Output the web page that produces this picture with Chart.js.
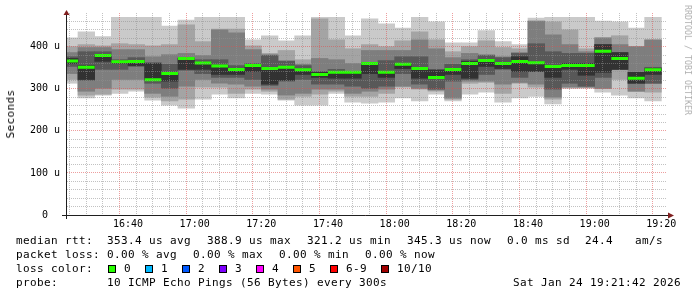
<!DOCTYPE html>
<html><head><meta charset="utf-8">
<script src="https://cdn.jsdelivr.net/npm/chart.js@4.4.1/dist/chart.umd.min.js"></script>
<style>
html,body{margin:0;padding:0;background:#fff;}
#wrap{position:relative;width:697px;height:297px;overflow:hidden;background:#fff;}
canvas{position:absolute;left:0;top:0;}
.t{position:absolute;font-family:'DejaVu Sans Mono',monospace;font-size:11px;letter-spacing:0.378px;line-height:14px;white-space:pre;color:#000;}
.box{position:absolute;width:8px;height:8px;box-sizing:border-box;border:1px solid #000;}
.rot{position:absolute;white-space:pre;font-family:'DejaVu Sans Mono',monospace;line-height:12px;}
</style></head>
<body>
<div id="wrap">
<canvas id="c" width="697" height="297"></canvas>
<div class="rot" id="ylab" style="left:11px;top:113.5px;font-size:11px;letter-spacing:0.378px;color:#000;transform:translate(-50%,-50%) rotate(-90deg);">Seconds</div>
<div class="rot" id="wm" style="left:687.5px;top:60px;font-size:8.3px;color:#b0b0b0;transform:translate(-50%,-50%) rotate(90deg);">RRDTOOL / TOBI OETIKER</div>
<div id="legend"></div>
</div>
<script>
// 5-minute slot start times (categories)
const slots = ['16:20','16:25','16:30','16:35','16:40','16:45','16:50','16:55','17:00','17:05','17:10','17:15',
  '17:20','17:25','17:30','17:35','17:40','17:45','17:50','17:55','18:00','18:05','18:10','18:15',
  '18:20','18:25','18:30','18:35','18:40','18:45','18:50','18:55','19:00','19:05','19:10','19:15'];
// sorted ping RTTs per slot (microseconds), rtt1 = fastest ... rtt10 = slowest
const rtt10 = [421,435,424,470,470,470,449,463,470,470,470,416,426,414,426,470,470,426,466,454,444,470,459,409,409,438,412,405,468,470,470,470,461,459,444,470];
const rtt9  = [400,405,402,407,405,402,405,452,412,442,442,402,384,391,369,466,416,395,405,400,414,435,416,388,400,414,398,395,461,459,440,395,421,426,400,416];
const rtt8  = [386,398,398,393,393,376,381,384,379,440,433,393,381,367,358,372,369,360,391,391,391,416,395,374,384,381,376,386,461,428,405,388,421,405,400,416];
const rtt7  = [376,388,388,369,374,362,358,374,369,369,355,360,379,365,355,341,346,341,362,367,376,376,346,358,369,379,374,384,407,388,384,384,405,386,339,351];
const rtt6  = [372,355,379,365,367,360,336,372,362,355,348,355,351,351,346,339,341,340,360,341,360,348,344,346,365,367,361,376,362,353,360,360,405,386,339,348];
const rtt5  = [360,322,365,360,355,321,318,346,346,334,334,341,311,320,334,327,325,325,336,327,348,325,325,334,325,353,348,341,341,327,346,332,339,346,313,334];
const rtt4  = [353,320,346,346,353,313,301,344,336,327,327,322,308,318,322,311,311,306,301,306,336,311,299,318,322,334,346,327,341,299,313,306,327,346,313,313];
const rtt3  = [336,294,301,322,322,289,282,306,322,313,311,306,299,285,289,299,299,289,294,299,306,301,297,278,318,318,311,315,311,280,304,304,301,346,294,313];
const rtt2  = [322,285,287,299,299,280,271,275,304,304,289,299,294,275,282,287,294,282,282,289,304,299,294,275,313,315,289,313,304,275,303,303,301,322,294,292];
const rtt1  = [313,278,285,289,294,273,261,254,275,287,278,289,287,273,261,261,289,268,266,268,278,271,287,271,287,292,268,278,282,264,300,301,292,285,278,271];
const median = [366,351,379,364,365,321.2,336,372,361,354,346,355,348,351,345,334,339,339,360,339,358,348,327,346,360,367,360,365,362,353,355,355,388.9,372,325,345.3];
// axis tick labels
const xTickLabels = ['16:40','17:00','17:20','17:40','18:00','18:20','18:40','19:00','19:20'];
const yTickLabels = ['0  ','100 u','200 u','300 u','400 u'];
const yTickValues = [0,100,200,300,400];
// legend
const lossLabels = ['0','1','2','3','4','5','6-9','10/10'];
const lossColors = ['#26ff00','#00b8ff','#0059ff','#7e00ff','#ff00ff','#ff5500','#ff0000','#a10000'];

const toMin = s => { const p = s.split(':').map(Number); return p[0]*60 + p[1]; };
const fmt = v => { const h = Math.floor(v/60), m = Math.round(v - h*60); return String(h).padStart(2,'0') + ':' + String(m).padStart(2,'0'); };
const STEP = 5;
const xMin = toMin('16:21') + 42/60;
const xMax = xMin + 180;
const centers = slots.map(s => toMin(s) + STEP/2);

const GRID = 'rgba(143,143,143,0.55)';
const MGRID = 'rgba(222,79,79,0.55)';

const layers = [[rtt1, rtt10, '#cacaca'], [rtt2, rtt9, '#a4a4a4'], [rtt3, rtt8, '#7e7e7e'], [rtt4, rtt7, '#585858'], [rtt5, rtt6, '#323232']];
const datasets = layers.map(([lo, hi, col], i) => ({
  type: 'bar',
  data: centers.map((x, k) => ({x: x, y: [lo[k], hi[k]]})),
  backgroundColor: col,
  borderWidth: 0,
  grouped: false,
  barPercentage: 1,
  categoryPercentage: 1,
  order: 10 - i
}));
const medPts = [];
slots.forEach((s, k) => {
  const a = toMin(s);
  medPts.push({x: a, y: median[k]}, {x: a + STEP, y: median[k]}, {x: a + STEP, y: null});
});
datasets.push({
  type: 'line', data: medPts, borderColor: '#26ff00', borderWidth: 3,
  pointRadius: 0, spanGaps: false, tension: 0, order: 0, borderCapStyle: 'butt', clip: 0
});

const axesPlugin = {
  id: 'rrdAxes',
  afterDraw(chart) {
    const {ctx, chartArea: a} = chart;
    ctx.save();
    ctx.strokeStyle = 'rgb(31,31,31)';
    ctx.lineWidth = 1;
    ctx.beginPath();
    ctx.moveTo(a.left - 5, a.bottom + 0.5); ctx.lineTo(a.right + 2, a.bottom + 0.5);
    ctx.moveTo(a.left - 0.5, a.bottom + 4); ctx.lineTo(a.left - 0.5, a.top + 1);
    ctx.stroke();
    ctx.fillStyle = 'rgb(128,31,31)';
    ctx.beginPath();
    ctx.moveTo(a.left - 0.5, a.top - 3); ctx.lineTo(a.left - 3.5, a.top + 2); ctx.lineTo(a.left + 2.5, a.top + 2); ctx.closePath();
    ctx.fill();
    ctx.beginPath();
    ctx.moveTo(a.right + 7, a.bottom + 0.5); ctx.lineTo(a.right + 1, a.bottom - 2.5); ctx.lineTo(a.right + 1, a.bottom + 3.5); ctx.closePath();
    ctx.fill();
    ctx.restore();
  }
};

const tickFont = {family: "'DejaVu Sans Mono', monospace", size: 10};
new Chart(document.getElementById('c'), {
  type: 'bar',
  data: {datasets: datasets},
  plugins: [axesPlugin],
  options: {
    responsive: false, animation: false, events: [],
    layout: {padding: {left: 0, right: 30, top: 11, bottom: 0}},
    plugins: {legend: {display: false}, tooltip: {enabled: false}},
    scales: {
      x: {
        type: 'linear', min: xMin, max: xMax, offset: false,
        afterBuildTicks: sc => {
          const t = [];
          for (let v = Math.ceil(xMin / STEP) * STEP; v < xMax; v += STEP) t.push({value: v});
          sc.ticks = t;
        },
        afterFit: sc => { sc.height = 82; },
        grid: {z: 1, drawTicks: false, lineWidth: 1,
          color: c => (c.tick && xTickLabels.includes(fmt(c.tick.value))) ? MGRID : GRID},
        border: {display: false, dash: [1, 1]},
        ticks: {autoSkip: false, maxRotation: 0, minRotation: 0, padding: 3, color: '#000', font: tickFont,
          callback: v => xTickLabels.includes(fmt(v)) ? fmt(v) : ''}
      },
      y: {
        min: 0, max: 480,
        afterBuildTicks: sc => {
          const t = [];
          for (let v = 0; v < 480; v += 20) t.push({value: v});
          sc.ticks = t;
        },
        afterFit: sc => { sc.width = 67; },
        grid: {z: 1, drawTicks: false, lineWidth: 1,
          color: c => (c.tick && yTickValues.includes(c.tick.value)) ? MGRID : GRID},
        border: {display: false, dash: [1, 1]},
        ticks: {autoSkip: false, padding: 7, color: '#000', font: tickFont,
          callback: v => { const i = yTickValues.indexOf(v); return i >= 0 ? yTickLabels[i] : ''; }}
      }
    }
  }
});

// legend text (real text)
const leg = document.getElementById('legend');
function addText(x, y, s) {
  const d = document.createElement('div');
  d.className = 't'; d.style.left = x + 'px'; d.style.top = y + 'px'; d.textContent = s;
  leg.appendChild(d);
}
[[16,'median rtt:'],[107,'353.4 us avg'],[207,'388.9 us max'],[307,'321.2 us min'],[407,'345.3 us now'],[507,'0.0 ms sd'],[585,'24.4'],[635,'am/s']]
  .forEach(p => addText(p[0], 234, p[1]));
[[16,'packet loss:'],[107,'0.00 % avg'],[193,'0.00 % max'],[279,'0.00 % min'],[365,'0.00 % now']]
  .forEach(p => addText(p[0], 248, p[1]));
addText(16, 262, 'loss color:');
let bx = 108;
lossLabels.forEach((l, i) => {
  const b = document.createElement('div');
  b.className = 'box'; b.style.left = bx + 'px'; b.style.top = '265px'; b.style.background = lossColors[i];
  leg.appendChild(b);
  addText(bx + 16, 262, l);
  bx += 16 + 7 * l.length + 14;
});
[[16,'probe:'],[107,'10 ICMP Echo Pings (56 Bytes) every 300s'],[513,'Sat Jan 24 19:21:42 2026']]
  .forEach(p => addText(p[0], 276, p[1]));
</script>
</body></html>
